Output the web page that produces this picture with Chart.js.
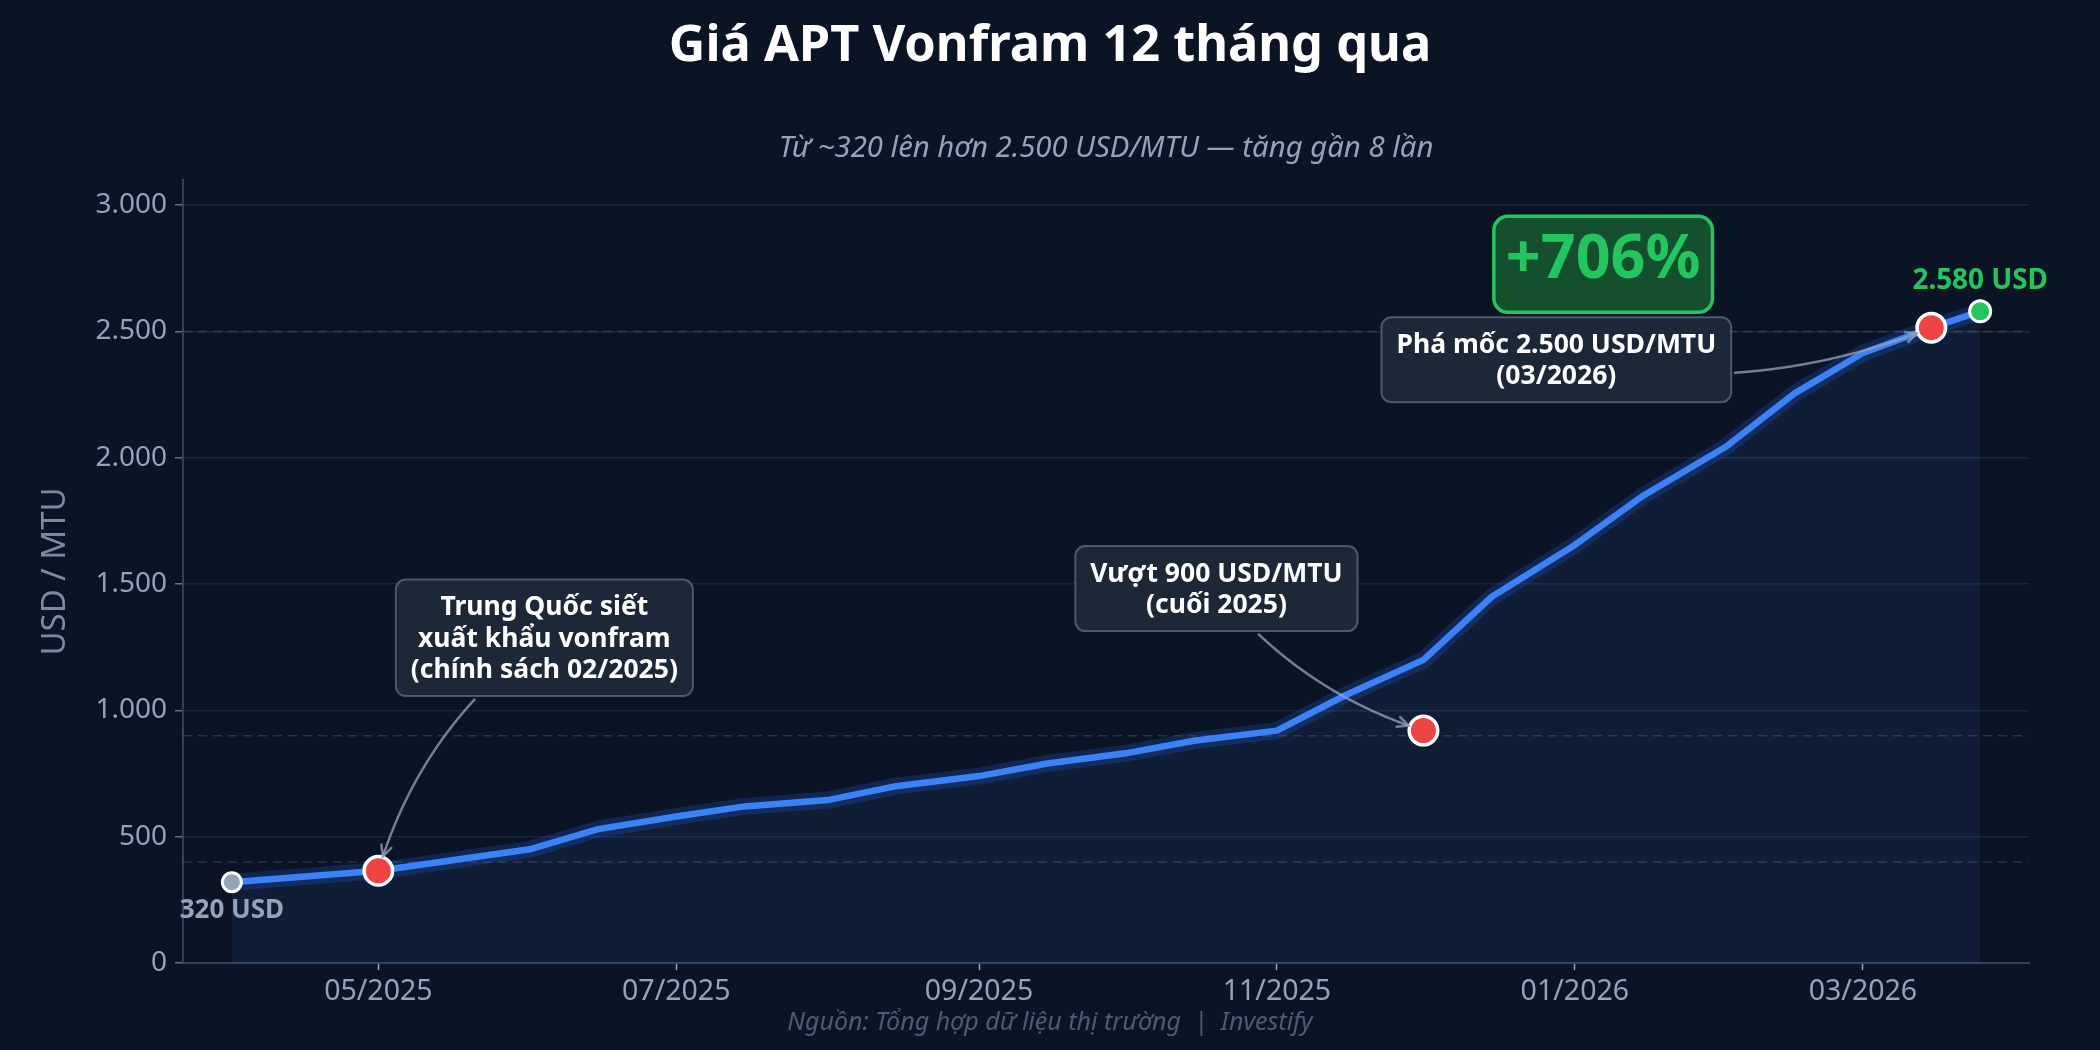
<!DOCTYPE html>
<html lang="vi">
<head>
<meta charset="utf-8">
<title>Giá APT Vonfram 12 tháng qua</title>
<script src="https://cdn.jsdelivr.net/npm/chart.js@4.4.1/dist/chart.umd.min.js"></script>
<style>
  html, body { margin: 0; padding: 0; background: #0b1424; }
  #wrap { width: 2100px; height: 1050px; }
</style>
</head>
<body>
<div id="wrap"><canvas id="priceChart" width="2100" height="1050"></canvas></div>
<script>
// price data (USD/MTU)
const dates = ['2025-04-01', '2025-05-01', '2025-06-01', '2025-06-15', '2025-07-01', '2025-07-15',
  '2025-08-01', '2025-08-15', '2025-09-01', '2025-09-15', '2025-10-01', '2025-10-15',
  '2025-11-01', '2025-11-15', '2025-12-01', '2025-12-15', '2026-01-01', '2026-01-15',
  '2026-02-01', '2026-02-15', '2026-03-01', '2026-03-15', '2026-03-25']
const prices = [320, 365, 450, 530, 580, 620, 645, 700, 740, 790, 830, 880,
  920, 1060, 1200, 1450, 1655, 1850, 2045, 2255, 2415, 2515, 2580]

const xTickDates = ['2025-05-01', '2025-07-01', '2025-09-01', '2025-11-01', '2026-01-01', '2026-03-01']
const xTickLabels = ['05/2025', '07/2025', '09/2025', '11/2025', '01/2026', '03/2026']
const yTicks = [0, 500, 1000, 1500, 2000, 2500, 3000]
const refLevels = [400, 900, 2500]

const eventDates = ['2025-05-01', '2025-12-01', '2026-03-15']
const eventValues = [365, 920, 2515]
const eventTexts = [
  ['Trung Quốc siết', 'xuất khẩu vonfram', '(chính sách 02/2025)'],
  ['Vượt 900 USD/MTU', '(cuối 2025)'],
  ['Phá mốc 2.500 USD/MTU', '(03/2026)']
]

const FONT = '"Noto Sans", "Open Sans", sans-serif'
const DAY = 86400000
const ts = s => Date.parse(s + 'T00:00:00Z')
const fmt = v => String(v).replace(/\B(?=(\d{3})+(?!\d))/g, '.')

const xMin = ts(dates[0]) - 10 * DAY
const xMax = ts(dates[dates.length - 1]) + 10 * DAY
const firstPrice = prices[0]
const lastPrice = prices[prices.length - 1]
const pctText = '+' + Math.round((lastPrice - firstPrice) / firstPrice * 100) + '%'

const series = dates.map((d, i) => ({ x: ts(d), y: prices[i] }))
const markers = [
  { x: ts(dates[0]), y: firstPrice },
  ...eventDates.map((d, i) => ({ x: ts(d), y: eventValues[i] })),
  { x: ts(dates[dates.length - 1]), y: lastPrice }
]

// callout placement: offset of box centre from its marker, curvature of the arrow
const calloutStyle = [
  { dx: 166, dy: -233, rad: 0.17 },
  { dx: -207, dy: -142, rad: 0.15 },
  { dx: -375, dy: 32, rad: 0.15 }
]

function drawArrow(ctx, box, tx, ty, rad) {
  const x0 = box.cx, y0 = box.cy
  const dx = tx - x0, dy = ty - y0
  const cx = (x0 + tx) / 2 - rad * dy
  const cy = (y0 + ty) / 2 + rad * dx
  const pts = []
  for (let i = 0; i <= 400; i++) {
    const t = i / 400
    const px = (1 - t) * (1 - t) * x0 + 2 * t * (1 - t) * cx + t * t * tx
    const py = (1 - t) * (1 - t) * y0 + 2 * t * (1 - t) * cy + t * t * ty
    if (px > box.x - 3 && px < box.x + box.w + 3 && py > box.y - 3 && py < box.y + box.h + 3) continue
    if (Math.hypot(px - tx, py - ty) < 15) break
    pts.push([px, py])
  }
  if (pts.length < 2) return
  ctx.save()
  ctx.strokeStyle = 'rgba(148,163,184,0.75)'
  ctx.lineWidth = 2.5
  ctx.lineCap = 'round'
  ctx.beginPath()
  pts.forEach(([px, py], i) => i ? ctx.lineTo(px, py) : ctx.moveTo(px, py))
  ctx.stroke()
  const [ex, ey] = pts[pts.length - 1]
  const [bx, by] = pts[Math.max(0, pts.length - 8)]
  const ang = Math.atan2(ey - by, ex - bx)
  ctx.beginPath()
  ctx.moveTo(ex - 12 * Math.cos(ang - 0.45), ey - 12 * Math.sin(ang - 0.45))
  ctx.lineTo(ex, ey)
  ctx.lineTo(ex - 12 * Math.cos(ang + 0.45), ey - 12 * Math.sin(ang + 0.45))
  ctx.stroke()
  ctx.restore()
}

const decorPlugin = {
  id: 'decor',
  beforeDraw(chart) {
    const ctx = chart.ctx
    ctx.save()
    ctx.fillStyle = '#0b1424'
    ctx.fillRect(0, 0, chart.width, chart.height)
    ctx.restore()
  },
  afterDatasetsDraw(chart) {
    const ctx = chart.ctx
    const xs = chart.scales.x
    const ys = chart.scales.y

    // callout boxes with curved arrows
    eventDates.forEach((d, i) => {
      const mx = xs.getPixelForValue(ts(d))
      const my = ys.getPixelForValue(eventValues[i])
      const st = calloutStyle[i]
      const lines = eventTexts[i]
      ctx.save()
      ctx.font = 'bold 26.5px ' + FONT
      const tw = Math.max(...lines.map(l => ctx.measureText(l).width))
      const w = tw + 30
      const h = lines.length * 31.5 + 22
      const box = { cx: mx + st.dx, cy: my + st.dy, w, h }
      box.x = box.cx - w / 2
      box.y = box.cy - h / 2
      drawArrow(ctx, box, mx, my, st.rad)
      ctx.beginPath()
      ctx.roundRect(box.x, box.y, w, h, 10)
      ctx.fillStyle = 'rgba(30,41,59,0.92)'
      ctx.fill()
      ctx.lineWidth = 2
      ctx.strokeStyle = 'rgba(100,116,139,0.7)'
      ctx.stroke()
      ctx.fillStyle = '#ffffff'
      ctx.textAlign = 'center'
      ctx.textBaseline = 'alphabetic'
      const base = box.cy - (lines.length - 1) * 31.5 / 2 + 9
      lines.forEach((l, j) => ctx.fillText(l, box.cx, base + j * 31.5))
      ctx.restore()
    })

    // start / end value labels
    const fx = xs.getPixelForValue(ts(dates[0]))
    const fy = ys.getPixelForValue(firstPrice)
    const lx = xs.getPixelForValue(ts(dates[dates.length - 1]))
    const ly = ys.getPixelForValue(lastPrice)
    ctx.save()
    ctx.textAlign = 'center'
    ctx.textBaseline = 'alphabetic'
    ctx.font = 'bold 26px ' + FONT
    ctx.fillStyle = '#94a3b8'
    ctx.fillText(fmt(firstPrice) + ' USD', fx, fy + 36)
    ctx.font = 'bold 27.8px ' + FONT
    ctx.fillStyle = '#22c55e'
    ctx.fillText(fmt(lastPrice) + ' USD', lx, ly - 22)

    // growth badge
    ctx.font = 'bold 61px ' + FONT
    const pw = ctx.measureText(pctText).width + 24
    const ph = 96
    const bcx = lx - 377
    const bcy = ly - 47
    ctx.beginPath()
    ctx.roundRect(bcx - pw / 2, bcy - ph / 2, pw, ph, 14)
    ctx.fillStyle = '#14502e'
    ctx.fill()
    ctx.lineWidth = 3.5
    ctx.strokeStyle = '#22c55e'
    ctx.stroke()
    ctx.fillStyle = '#22c55e'
    ctx.fillText(pctText, bcx, bcy + 14)

    // source line
    ctx.font = 'italic 25px ' + FONT
    ctx.fillStyle = '#4e5b70'
    ctx.fillText('Nguồn: Tổng hợp dữ liệu thị trường  |  Investify', chart.width / 2, 1030)
    ctx.restore()
  }
}

new Chart(document.getElementById('priceChart'), {
  type: 'line',
  data: {
    datasets: [
      {
        type: 'scatter',
        data: markers,
        pointBackgroundColor: ['#94a3b8', '#ef4444', '#ef4444', '#ef4444', '#22c55e'],
        pointBorderColor: '#ffffff',
        pointBorderWidth: [3, 3.5, 3.5, 3.5, 3],
        pointRadius: [9.5, 14.25, 14.25, 14.25, 10.5],
        pointHoverRadius: [9.5, 14.25, 14.25, 14.25, 10.5]
      },
      {
        data: series,
        borderColor: '#3b82f6',
        borderWidth: 6.5,
        borderJoinStyle: 'round',
        borderCapStyle: 'round',
        backgroundColor: 'rgba(59,130,246,0.09)',
        fill: 'origin',
        pointRadius: 0,
        tension: 0
      },
      {
        data: series,
        borderColor: 'rgba(37,99,235,0.22)',
        borderWidth: 17,
        borderJoinStyle: 'round',
        fill: false,
        pointRadius: 0,
        tension: 0
      },
      ...refLevels.map(lvl => ({
        data: [{ x: xMin, y: lvl }, { x: xMax, y: lvl }],
        borderColor: 'rgba(148,163,184,0.22)',
        borderWidth: 1.5,
        borderDash: [9, 6],
        fill: false,
        pointRadius: 0
      }))
    ]
  },
  options: {
    responsive: false,
    devicePixelRatio: 1,
    animation: false,
    layout: { padding: 0 },
    plugins: {
      legend: { display: false },
      tooltip: { enabled: false },
      filler: { drawTime: 'beforeDatasetsDraw' },
      title: {
        display: true,
        text: 'Giá APT Vonfram 12 tháng qua',
        color: '#ffffff',
        font: { family: FONT, size: 50.5, weight: 'bold', lineHeight: 1.2 },
        padding: { top: 16, bottom: 54.8 }
      },
      subtitle: {
        display: true,
        fullSize: false,
        text: 'Từ ~320 lên hơn 2.500 USD/MTU — tăng gần 8 lần',
        color: '#94a3b8',
        font: { family: FONT, size: 29.3, style: 'italic', lineHeight: 1.2 },
        padding: { top: 0, bottom: 13.4 }
      }
    },
    scales: {
      x: {
        type: 'linear',
        min: xMin,
        max: xMax,
        afterBuildTicks: scale => { scale.ticks = xTickDates.map(d => ({ value: ts(d) })) },
        afterFit: scale => { scale.height = 87 },
        grid: { drawOnChartArea: false, tickLength: 7, tickColor: '#94a3b8', tickWidth: 1.5 },
        border: { color: '#334155', width: 2 },
        ticks: {
          color: '#94a3b8',
          font: { family: FONT, size: 28.5 },
          padding: 5,
          maxRotation: 0,
          autoSkip: false,
          callback: (v, i) => xTickLabels[i]
        }
      },
      y: {
        min: 0,
        max: 3100,
        afterBuildTicks: scale => { scale.ticks = yTicks.map(v => ({ value: v })) },
        afterFit: scale => { scale.width = 183 },
        grid: { color: 'rgba(148,163,184,0.12)', lineWidth: 1.5, tickLength: 8, tickColor: '#64748b' },
        border: { color: '#334155', width: 2 },
        ticks: {
          color: '#94a3b8',
          font: { family: FONT, size: 28 },
          padding: 8,
          callback: v => fmt(v)
        },
        title: {
          display: true,
          text: 'USD / MTU',
          color: '#7c8aa0',
          font: { family: FONT, size: 33 },
          padding: { top: 36, bottom: 0 }
        }
      },
      // empty right margin so the title centres on the full canvas
      yRight: {
        position: 'right',
        min: 0,
        max: 1,
        grid: { display: false },
        border: { display: false },
        ticks: { display: false },
        afterFit: scale => { scale.width = 71 }
      }
    }
  },
  plugins: [decorPlugin]
})
</script>
</body>
</html>
